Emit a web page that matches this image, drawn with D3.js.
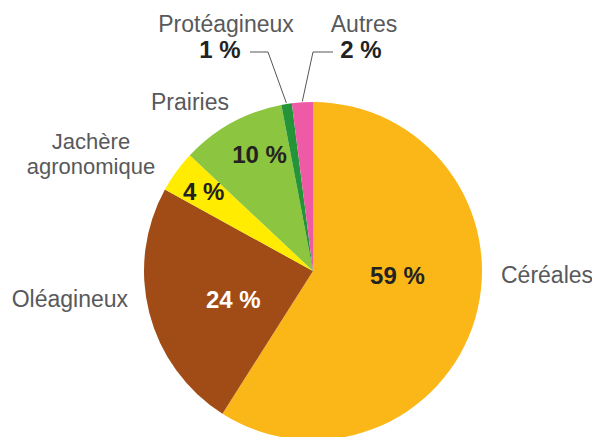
<!DOCTYPE html>
<html>
    <head>
        <script src="https://cdnjs.cloudflare.com/ajax/libs/d3/7.8.5/d3.min.js"></script>
        <title>Répartition des surfaces</title>
        <style>
            html, body { margin: 0; background: #fff; }
            svg { display: block; font-family: "Liberation Sans", Arial, sans-serif; }
        </style>
    </head>
    <body>
        <svg width="592" height="437" class="svg_canvas"></svg>
        <script>
            var categories = ["Céréales", "Oléagineux", "Jachère agronomique", "Prairies", "Protéagineux", "Autres"];
            var values = [59, 24, 4, 10, 1, 2];
            var colors = ["#fbb718", "#a14c17", "#ffec00", "#8cc540", "#249438", "#ee5aa6"];
            var valueColors = ["#222", "#fff", "#222", "#222", "#222", "#222"];

            var cx = 313, cy = 271, radius = 169;

            var svg = d3.select(".svg_canvas");
            var g = svg.append("g").attr("transform", "translate(" + cx + "," + cy + ")");

            var pie = d3.pie().sort(null).value(function(d){ return d; });
            var arcs = pie(values);
            var arc = d3.arc().innerRadius(0).outerRadius(radius);

            g.selectAll("path")
                .data(arcs)
                .enter()
                .append("path")
                .attr("d", arc)
                .style("fill", function(d, i){ return colors[i]; });

            // percentage labels inside the four big slices
            var insideR = [0.50, 0.50, 0.80, 0.76];
            var insideShift = [-13.5, -4.9, 0, 4.2]; // degrees
            g.selectAll("text.inside")
                .data(arcs.slice(0, 4))
                .enter()
                .append("text")
                .attr("class", "inside")
                .attr("transform", function(d, i){
                    var a = (d.startAngle + d.endAngle) / 2 + insideShift[i] * Math.PI / 180;
                    var r = radius * insideR[i];
                    return "translate(" + (Math.sin(a) * r) + "," + (-Math.cos(a) * r) + ")";
                })
                .attr("text-anchor", "middle")
                .attr("dy", "0.36em")
                .style("font-size", "24px")
                .style("font-weight", "bold")
                .style("fill", function(d, i){ return valueColors[i]; })
                .text(function(d){ return d.value + " %"; });

            // category names
            var labels = svg.append("g").style("font-size", "23px").style("fill", "#58595b");
            labels.append("text").attr("x", 501).attr("y", 283).text(categories[0]);
            labels.append("text").attr("x", 128).attr("y", 307).attr("text-anchor", "end").text(categories[1]);
            labels.append("text").attr("x", 91).attr("y", 149).attr("text-anchor", "middle")
                .style("font-size", "22px").text("Jachère");
            labels.append("text").attr("x", 91).attr("y", 174).attr("text-anchor", "middle")
                .style("font-size", "22px").text("agronomique");
            labels.append("text").attr("x", 190).attr("y", 110).attr("text-anchor", "middle").text(categories[3]);
            labels.append("text").attr("x", 226).attr("y", 32).attr("text-anchor", "middle").text(categories[4]);
            labels.append("text").attr("x", 364).attr("y", 32).attr("text-anchor", "middle").text(categories[5]);

            // small slices: values outside with leader lines
            var outside = svg.append("g").style("font-size", "24px").style("font-weight", "bold").style("fill", "#222");
            outside.append("text").attr("x", 220).attr("y", 58).attr("text-anchor", "middle").text(values[4] + " %");
            outside.append("text").attr("x", 361).attr("y", 58).attr("text-anchor", "middle").text(values[5] + " %");

            function edgePoint(d) {
                var a = (d.startAngle + d.endAngle) / 2;
                return [cx + Math.sin(a) * (radius + 1), cy - Math.cos(a) * (radius + 1)];
            }
            var p4 = edgePoint(arcs[4]), p5 = edgePoint(arcs[5]);
            var line = d3.line();
            svg.append("path")
                .attr("d", line([[250, 52], [268, 52], p4]))
                .style("fill", "none").style("stroke", "#555").style("stroke-width", 1);
            svg.append("path")
                .attr("d", line([[333, 52], [313, 52], p5]))
                .style("fill", "none").style("stroke", "#555").style("stroke-width", 1);
        </script>
    </body>
</html>
